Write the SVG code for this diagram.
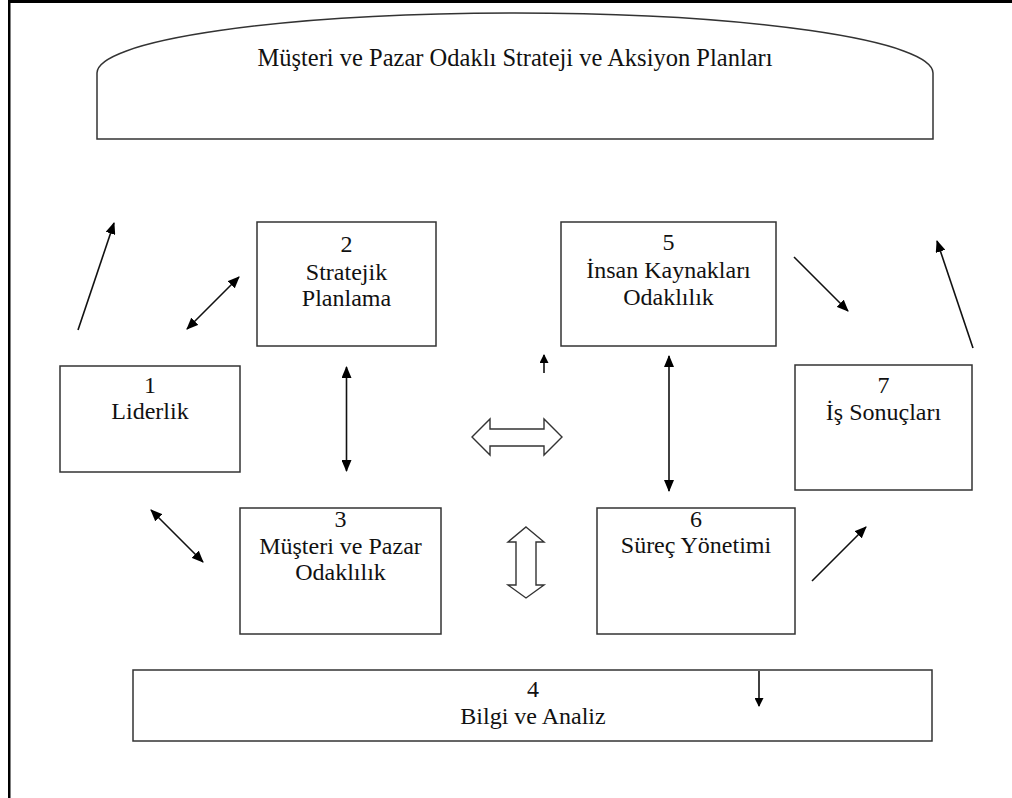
<svg xmlns="http://www.w3.org/2000/svg" width="1012" height="798" viewBox="0 0 1012 798">
<style>
.box{fill:#fff;stroke:#333;stroke-width:1.5}
.t{font-family:"Liberation Serif","Times New Roman",serif;font-size:24px;fill:#111;text-anchor:middle}
.ln{stroke:#111;stroke-width:1.6;fill:none}
.blk{fill:#fff;stroke:#333;stroke-width:1.4}
</style>
<defs>
<marker id="ah" viewBox="0 0 12 10" refX="11" refY="5" markerWidth="12" markerHeight="10" markerUnits="userSpaceOnUse" orient="auto-start-reverse">
<path d="M0,0 L12,5 L0,10 Z" fill="#000"/>
</marker>
<marker id="ahs" viewBox="0 0 10 10" refX="9" refY="5" markerWidth="10" markerHeight="9" markerUnits="userSpaceOnUse" orient="auto">
<path d="M0,0 L10,5 L0,10 Z" fill="#000"/>
</marker>
</defs>
<rect x="0" y="0" width="1012" height="798" fill="#fff"/>
<g id="frame">
<rect x="8" y="0" width="1004" height="3" fill="#000"/>
<rect x="8" y="0" width="2.5" height="798" fill="#000"/>
</g>
<g id="plans">
<path class="box" d="M97,139 L97,73 A418,60 0 0 1 933,73 L933,139 Z"/>
<text class="t" x="515" y="66" style="font-size:24.5px">Müşteri ve Pazar Odaklı Strateji ve Aksiyon Planları</text>
</g>
<g id="n1">
<rect class="box" x="60" y="366" width="180" height="106"/>
<text class="t" x="150" y="393">1</text>
<text class="t" x="150" y="419">Liderlik</text>
</g>
<g id="n2">
<rect class="box" x="257" y="222" width="179" height="124"/>
<text class="t" x="346.5" y="252">2</text>
<text class="t" x="346.5" y="280">Stratejik</text>
<text class="t" x="346.5" y="306">Planlama</text>
</g>
<g id="n3">
<rect class="box" x="240" y="508" width="201" height="126"/>
<text class="t" x="340.5" y="527">3</text>
<text class="t" x="340.5" y="554">Müşteri ve Pazar</text>
<text class="t" x="340.5" y="580">Odaklılık</text>
</g>
<g id="n5">
<rect class="box" x="561" y="222" width="215" height="124"/>
<text class="t" x="668.5" y="250">5</text>
<text class="t" x="668.5" y="278">İnsan Kaynakları</text>
<text class="t" x="668.5" y="305">Odaklılık</text>
</g>
<g id="n6">
<rect class="box" x="597" y="508" width="198" height="126"/>
<text class="t" x="696" y="527">6</text>
<text class="t" x="696" y="553">Süreç Yönetimi</text>
</g>
<g id="n7">
<rect class="box" x="795" y="365" width="177" height="125"/>
<text class="t" x="883.5" y="393">7</text>
<text class="t" x="883.5" y="420">İş Sonuçları</text>
</g>
<g id="n4">
<rect class="box" x="133" y="670" width="799" height="71"/>
<text class="t" x="533" y="697">4</text>
<text class="t" x="533" y="724">Bilgi ve Analiz</text>
</g>
<g id="connectors">
<line class="ln" x1="78" y1="330" x2="114" y2="223" marker-end="url(#ah)"/>
<line class="ln" x1="187" y1="329" x2="239" y2="277" marker-start="url(#ah)" marker-end="url(#ah)"/>
<line class="ln" x1="346.5" y1="367" x2="346.5" y2="471" marker-start="url(#ah)" marker-end="url(#ah)"/>
<line class="ln" x1="544" y1="373" x2="544" y2="355" marker-end="url(#ahs)"/>
<line class="ln" x1="151" y1="510" x2="203" y2="562" marker-start="url(#ah)" marker-end="url(#ah)"/>
<line class="ln" x1="669" y1="356" x2="669" y2="491" marker-start="url(#ah)" marker-end="url(#ah)"/>
<line class="ln" x1="794" y1="257" x2="848" y2="311" marker-end="url(#ah)"/>
<line class="ln" x1="973" y1="348" x2="937" y2="241" marker-end="url(#ah)"/>
<line class="ln" x1="812" y1="581" x2="866" y2="527" marker-end="url(#ah)"/>
<line class="ln" x1="759" y1="671" x2="759" y2="706" marker-end="url(#ahs)"/>
<path class="blk" d="M472,437 L490,419 L490,429 L544,429 L544,419 L562,437 L544,455 L544,446 L490,446 L490,455 Z"/>
<path class="blk" d="M526,527 L544,542 L536,542 L536,585 L544,585 L526,598 L508,585 L516,585 L516,542 L508,542 Z"/>
</g>
</svg>
